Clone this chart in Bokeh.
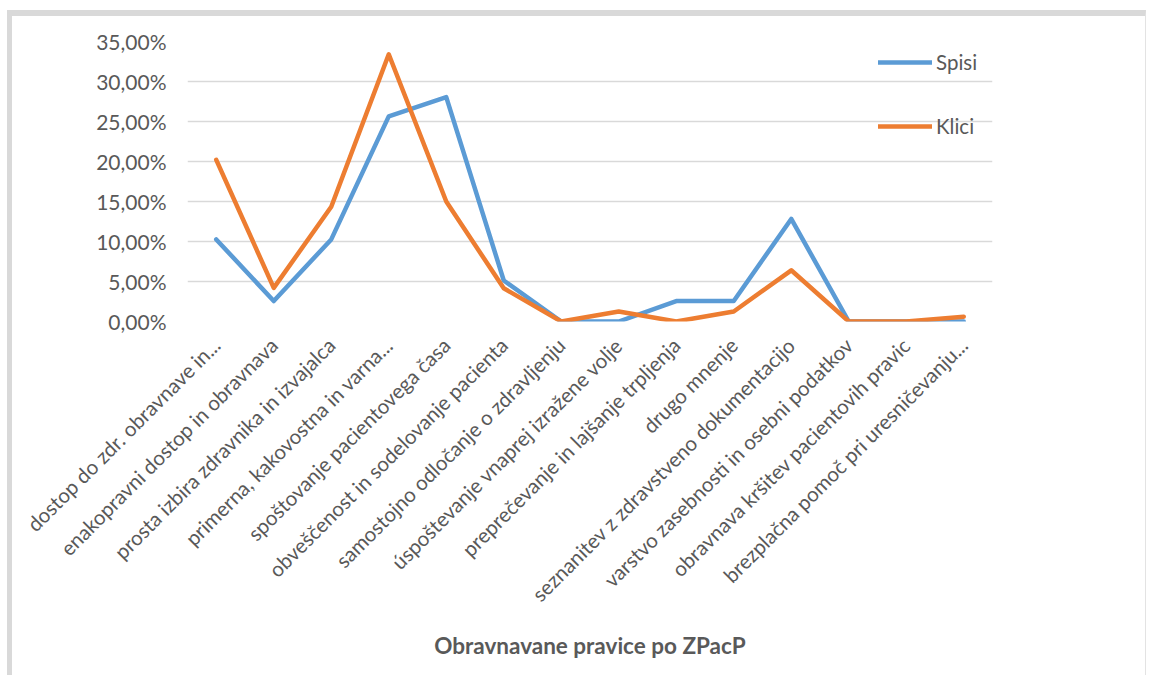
from bokeh.plotting import figure
from bokeh.models import (FactorRange, Range1d, FixedTicker, CustomJSTickFormatter,
                          Legend, LegendItem, ColumnDataSource)
from bokeh.embed import file_html
from bokeh.resources import INLINE
import math

categories = [
    "dostop do zdr. obravnave in...",
    "enakopravni dostop in obravnava",
    "prosta izbira zdravnika in izvajalca",
    "primerna, kakovostna in varna...",
    "spoštovanje pacientovega časa",
    "obveščenost in sodelovanje pacienta",
    "samostojno odločanje o zdravljenju",
    "úspoštevanje vnaprej izražene volje",
    "preprečevanje in lajšanje trpljenja",
    "drugo mnenje",
    "seznanitev z zdravstveno dokumentacijo",
    "varstvo zasebnosti in osebni podatkov",
    "obravnava kršitev pacientovih pravic",
    "brezplačna pomoč pri uresničevanju...",
]
spisi = [0.1026, 0.0256, 0.1026, 0.2564, 0.2805, 0.0513, 0.0, 0.0, 0.0256, 0.0256, 0.1282, 0.0, 0.0, 0.0]
klici = [0.2021, 0.0420, 0.1435, 0.3340, 0.1500, 0.0415, 0.0, 0.0125, 0.0, 0.0125, 0.0640, 0.0, 0.0, 0.0060]
y_ticks = [0.0, 0.05, 0.10, 0.15, 0.20, 0.25, 0.30, 0.35]
series_names = ["Spisi", "Klici"]
x_title = "Obravnavane pravice po ZPacP"

FONT = "Lato"
GRAY = "#595959"
BLUE = "#5B9BD5"
ORANGE = "#ED7D31"

src = ColumnDataSource(dict(cat=categories, spisi=spisi, klici=klici))

p = figure(width=1139, height=665, output_backend="svg", toolbar_location=None,
           x_range=FactorRange(*categories), y_range=Range1d(0, 0.35),
           min_border_left=175, min_border_right=159, min_border_top=25, min_border_bottom=360)
p.styles = {"border-left": "5px solid #d9d9d9", "border-top": "6px solid #d9d9d9",
            "border-right": "1px solid #e3e3e3",
            "margin-left": "7px", "margin-top": "10px"}
p.outline_line_color = None
p.background_fill_color = "white"
p.border_fill_color = "white"

r1 = p.line("cat", "spisi", source=src, line_color=BLUE, line_width=4.5,
            line_join="round", line_cap="round")
r2 = p.line("cat", "klici", source=src, line_color=ORANGE, line_width=4.5,
            line_join="round", line_cap="round")

p.xgrid.grid_line_color = None
p.ygrid.grid_line_color = "#d9d9d9"
p.ygrid.grid_line_width = 1.5

p.yaxis.ticker = FixedTicker(ticks=y_ticks)
p.yaxis.formatter = CustomJSTickFormatter(code="return (tick*100).toFixed(2).replace('.', ',') + '%';")
for ax in (p.xaxis[0], p.yaxis[0]):
    ax.axis_line_color = None
    ax.major_tick_line_color = None
    ax.minor_tick_line_color = None
    ax.major_tick_out = 0
    ax.major_tick_in = 0
    ax.major_label_text_font = FONT
    ax.major_label_text_color = GRAY
p.yaxis.major_label_text_font_size = "21px"
p.xaxis.major_label_text_font_size = "20.5px"
p.yaxis.major_label_standoff = 21
p.xaxis.major_label_orientation = math.pi / 4
p.xaxis.major_label_standoff = 20
p.xaxis.axis_label = x_title
p.xaxis.axis_label_text_font = FONT
p.xaxis.axis_label_text_font_style = "bold"
p.xaxis.axis_label_text_font_size = "22.5px"
p.xaxis.axis_label_text_color = GRAY
p.xaxis.axis_label_standoff = 15

legend = Legend(items=[LegendItem(label=series_names[0], renderers=[r1]),
                       LegendItem(label=series_names[1], renderers=[r2])],
                location=(691, 183), orientation="vertical",
                glyph_width=54, glyph_height=20, label_height=20, spacing=40,
                label_standoff=4, padding=0, margin=0,
                background_fill_alpha=0, border_line_color=None,
                label_text_font=FONT, label_text_font_size="20.5px",
                label_text_color=GRAY)
p.add_layout(legend)

open("out.html", "w").write(file_html(p, INLINE))
